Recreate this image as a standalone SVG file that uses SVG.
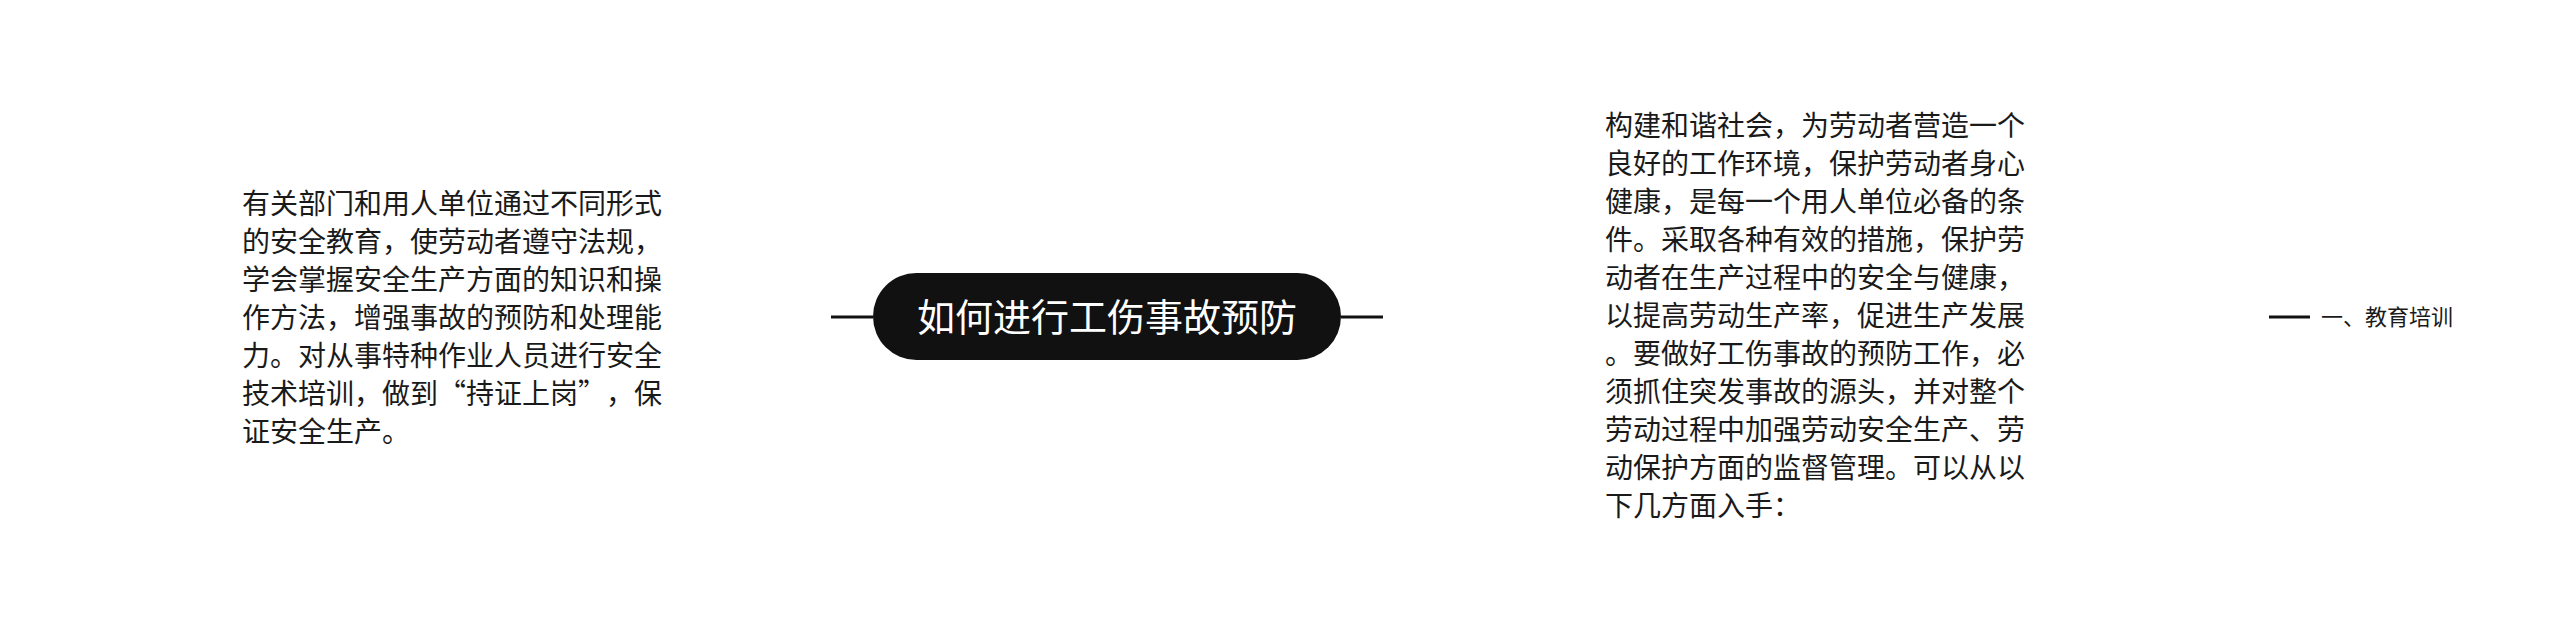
<svg xmlns="http://www.w3.org/2000/svg" width="2560" height="635" viewBox="0 0 2560 635">
<style>
.body{font-family:"Noto Sans CJK SC","Liberation Sans",sans-serif;font-size:28px;fill:#1a1a1a}
.root{font-family:"Noto Sans CJK SC","Liberation Sans",sans-serif;font-size:38px;fill:#ffffff}
.sub{font-family:"Noto Sans CJK SC","Liberation Sans",sans-serif;font-size:22px;fill:#1a1a1a}
.conn{stroke:#111;stroke-width:3;fill:none}
</style>
<rect width="2560" height="635" fill="#ffffff"/>
<g id="connectors">
<line class="conn" x1="831" y1="317" x2="873" y2="317"/>
<line class="conn" x1="1341" y1="317" x2="1383" y2="317"/>
<line class="conn" x1="2269" y1="317" x2="2310" y2="317"/>
</g>
<g id="root">
<rect x="873" y="273" width="468" height="87" rx="43.5" fill="#111111"/>
<text class="root" x="1107" y="331" text-anchor="middle">如何进行工伤事故预防</text>
</g>
<g id="left-text">
<text class="body" x="242" y="214">有关部门和用人单位通过不同形式</text>
<text class="body" x="242" y="252">的安全教育，使劳动者遵守法规，</text>
<text class="body" x="242" y="290">学会掌握安全生产方面的知识和操</text>
<text class="body" x="242" y="328">作方法，增强事故的预防和处理能</text>
<text class="body" x="242" y="366">力。对从事特种作业人员进行安全</text>
<text class="body" x="242" y="404">技术培训，做到</text>
<text class="body" x="438" y="404">“</text>
<text class="body" x="466" y="404">持证上岗</text>
<text class="body" x="578" y="404">”</text>
<text class="body" x="606" y="404">，保</text>
<text class="body" x="242" y="442">证安全生产。</text>
</g>
<g id="right-text">
<text class="body" x="1605" y="136">构建和谐社会，为劳动者营造一个</text>
<text class="body" x="1605" y="174">良好的工作环境，保护劳动者身心</text>
<text class="body" x="1605" y="212">健康，是每一个用人单位必备的条</text>
<text class="body" x="1605" y="250">件。采取各种有效的措施，保护劳</text>
<text class="body" x="1605" y="288">动者在生产过程中的安全与健康，</text>
<text class="body" x="1605" y="326">以提高劳动生产率，促进生产发展</text>
<text class="body" x="1605" y="364">。要做好工伤事故的预防工作，必</text>
<text class="body" x="1605" y="402">须抓住突发事故的源头，并对整个</text>
<text class="body" x="1605" y="440">劳动过程中加强劳动安全生产、劳</text>
<text class="body" x="1605" y="478">动保护方面的监督管理。可以从以</text>
<text class="body" x="1605" y="516">下几方面入手：</text>
</g>
<g id="child-1">
<text class="sub" x="2321" y="325">一、教育培训</text>
</g>
</svg>
